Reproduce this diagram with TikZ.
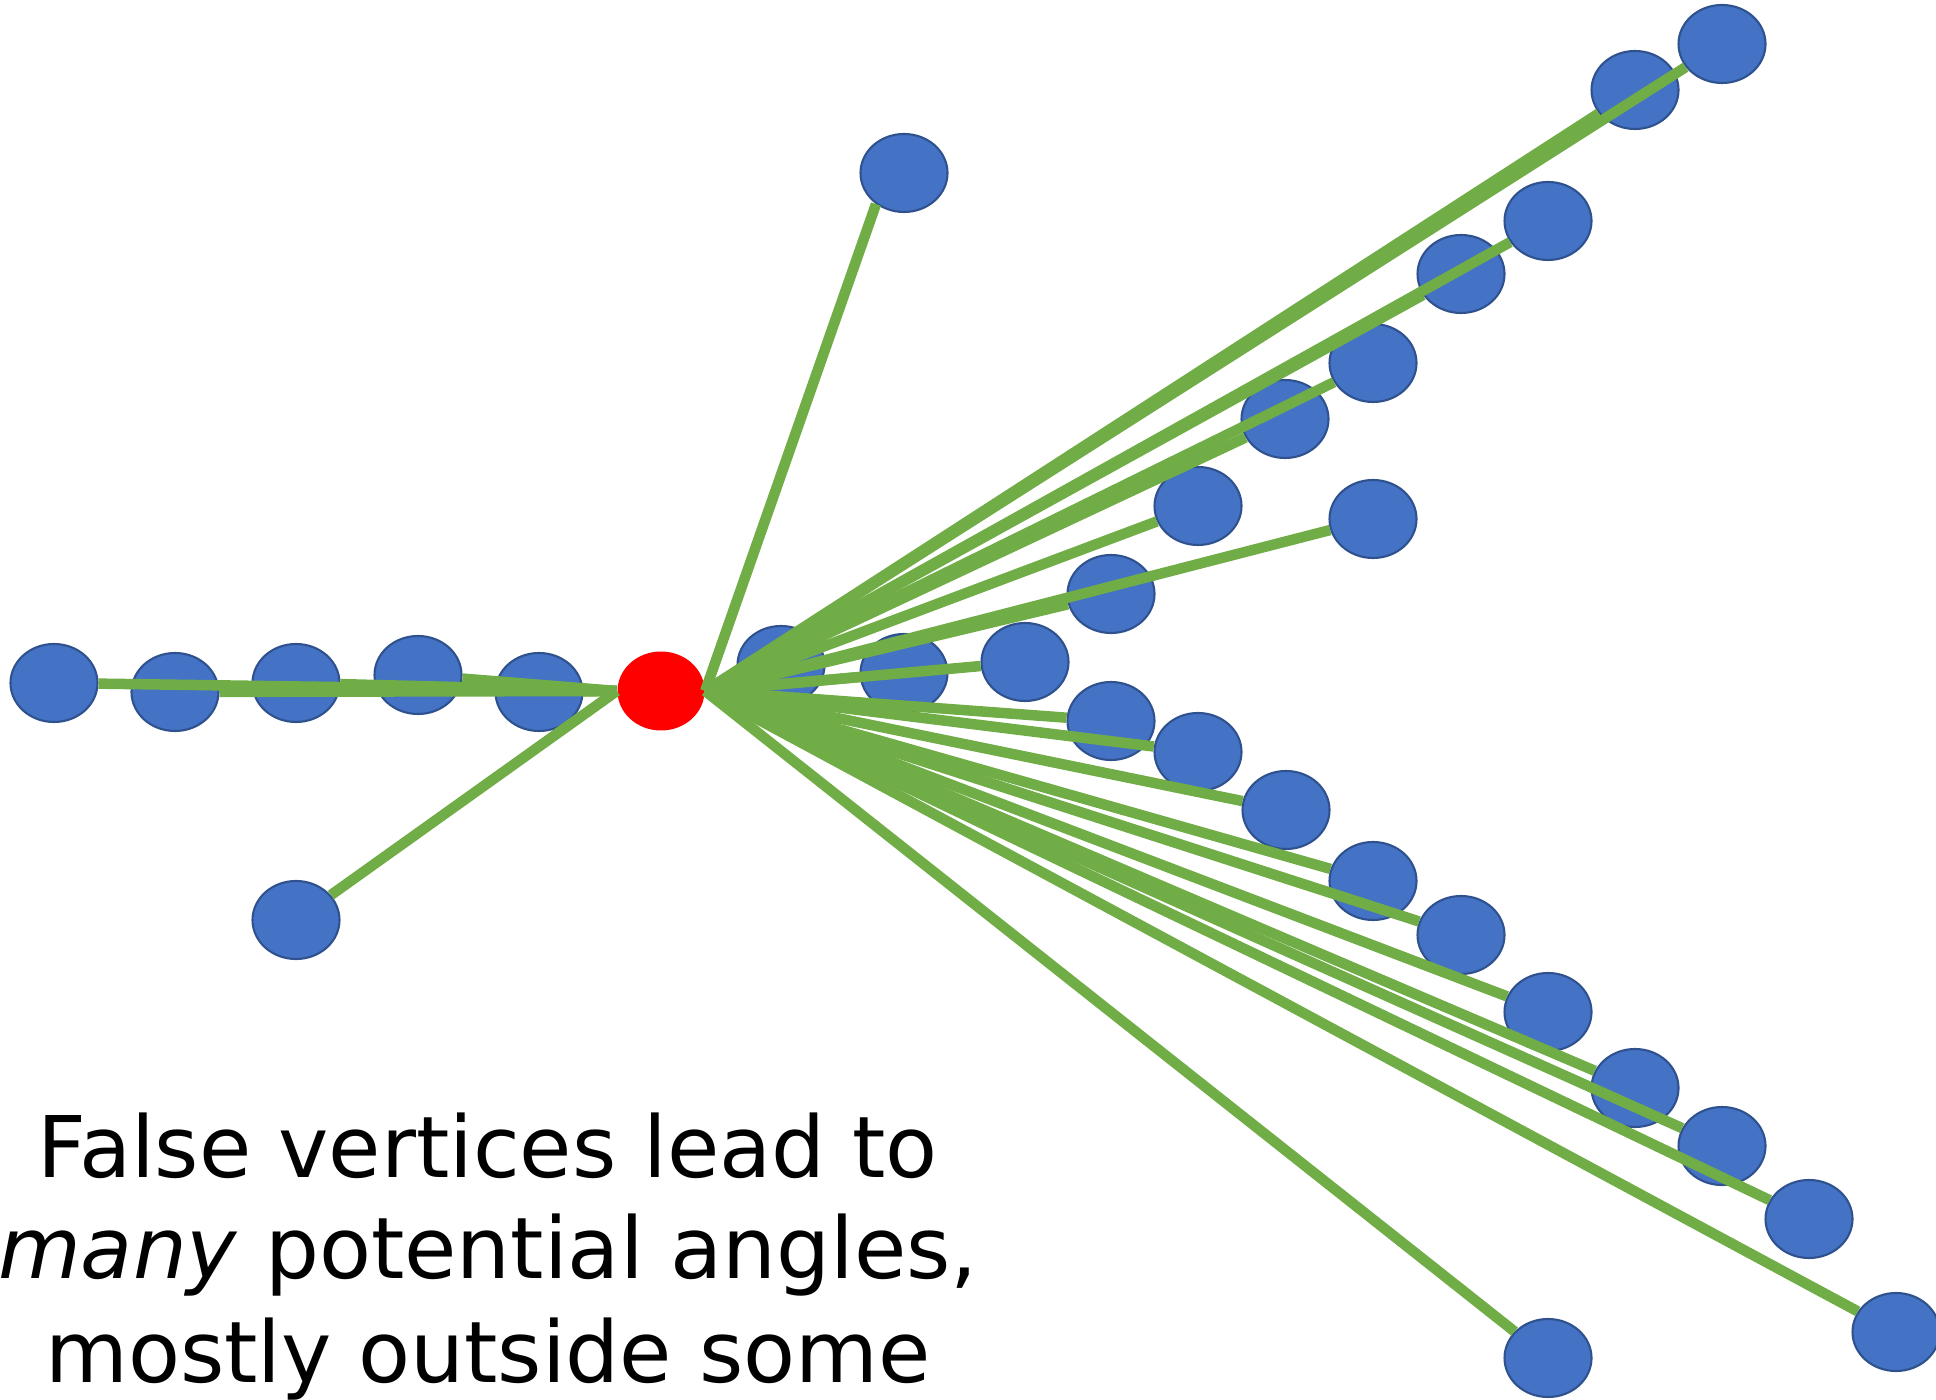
\documentclass[tikz,border=0pt]{standalone}
\usepackage{fontspec}
\setmainfont{DejaVu Sans}
\usepackage{tikz}
\usetikzlibrary{shapes.geometric}
\definecolor{vtxblue}{HTML}{4472C4}
\definecolor{vtxline}{HTML}{2F528F}
\definecolor{edgegreen}{HTML}{70AD47}

\begin{document}
\begin{tikzpicture}[
  x=0.1mm, y=-0.1mm,
  vtx/.style={ellipse, draw=vtxline, line width=0.6pt, fill=vtxblue, inner sep=0pt, minimum width=8.7mm, minimum height=7.8mm},
  hub/.style={ellipse, fill=red, inner sep=0pt, minimum width=8.7mm, minimum height=7.9mm},
  edge/.style={draw=edgegreen, line width=1.05mm},
  caption/.style={font=\fontsize{24.2}{29.2}\selectfont, anchor=base, inner sep=0pt}
]
  \useasboundingbox (0,0) rectangle (1936,1400);

  \node[vtx] (l1) at (54,683) {};
  \node[vtx] (l2) at (175,692) {};
  \node[vtx] (l3) at (296,683) {};
  \node[vtx] (l4) at (418,675) {};
  \node[vtx] (l5) at (539,692) {};
  \node[vtx] (low) at (296,920) {};
  \node[vtx] (top) at (904,173) {};

  \node[vtx] (u1) at (1722,44) {};
  \node[vtx] (u2) at (1635,90) {};
  \node[vtx] (u3) at (1548,221) {};
  \node[vtx] (u4) at (1461,274) {};
  \node[vtx] (u5) at (1373,363) {};
  \node[vtx] (u6) at (1285,419) {};
  \node[vtx] (u7) at (1198,506) {};
  \node[vtx] (u8) at (1373,519) {};
  \node[vtx] (u9) at (1111,594) {};
  \node[vtx] (u10) at (1025,662) {};
  \node[vtx] (u11) at (904,673) {};
  \node[vtx] (u12) at (781,665) {};

  \node[vtx] (d1) at (1111,721) {};
  \node[vtx] (d2) at (1198,752) {};
  \node[vtx] (d3) at (1286,810) {};
  \node[vtx] (d4) at (1373,881) {};
  \node[vtx] (d5) at (1461,935) {};
  \node[vtx] (d6) at (1548,1012) {};
  \node[vtx] (d7) at (1635,1088) {};
  \node[vtx] (d8) at (1722,1146) {};
  \node[vtx] (d9) at (1809,1219) {};
  \node[vtx] (d10) at (1896,1332) {};
  \node[vtx] (d11) at (1548,1358) {};

  \node[hub] (src) at (661,691) {};

  \draw[edge] (src.west) -- (l1);
  \draw[edge] (src.west) -- (l2);
  \draw[edge] (src.west) -- (l3);
  \draw[edge] (src.west) -- (l4);
  \draw[edge] (src.west) -- (l5);
  \draw[edge] (src.west) -- (low);
  \draw[edge] (src.east) -- (top.228);

  \draw[edge] (src.east) -- (u1);
  \draw[edge] (src.east) -- (u2);
  \draw[edge] (src.east) -- (u3);
  \draw[edge] (src.east) -- (u4);
  \draw[edge] (src.east) -- (u5);
  \draw[edge] (src.east) -- (u6);
  \draw[edge] (src.east) -- (u7);
  \draw[edge] (src.east) -- (u8);
  \draw[edge] (src.east) -- (u9);
  \draw[edge] (src.east) -- (u10);
  \draw[edge] (src.east) -- (u11);
  \draw[edge] (src.east) -- (u12);

  \draw[edge] (src.east) -- (d1);
  \draw[edge] (src.east) -- (d2);
  \draw[edge] (src.east) -- (d3);
  \draw[edge] (src.east) -- (d4);
  \draw[edge] (src.east) -- (d5);
  \draw[edge] (src.east) -- (d6);
  \draw[edge] (src.east) -- (d7);
  \draw[edge] (src.east) -- (d8);
  \draw[edge] (src.east) -- (d9);
  \draw[edge] (src.east) -- (d10);
  \draw[edge] (src.east) -- (d11);

  \node[caption] (line1) at (488,1177) {False vertices lead to};
  \node[caption] (line2) at (488,1278) {\textit{many} potential angles,};
  \node[caption] (line3) at (488,1382) {mostly outside some};
\end{tikzpicture}
\end{document}
